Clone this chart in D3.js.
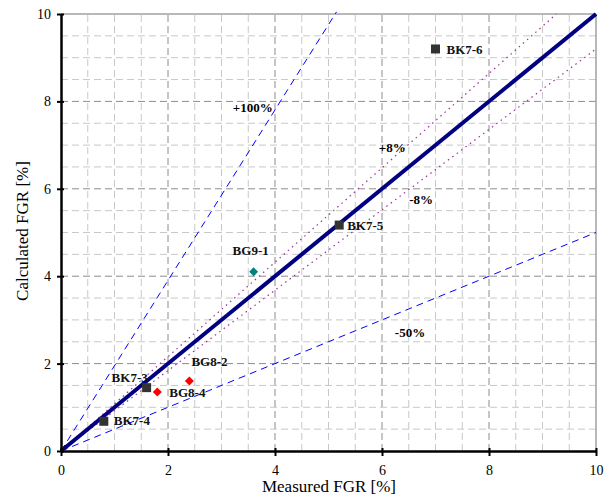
<!DOCTYPE html>
<html>
<head>
<meta charset="utf-8">
<script src="https://cdn.jsdelivr.net/npm/d3@7"></script>
<style>
  body { margin: 0; background: #fff; }
  text { font-family: "Liberation Serif", "Times New Roman", serif; }
</style>
</head>
<body>
<script>
// sample names and values (measured vs calculated FGR, %)
var bkNames = ['BK7-6', 'BK7-5', 'BK7-3', 'BK7-4'];
var bkMeasured = [7.0, 5.2, 1.6, 0.8];
var bkCalculated = [9.2, 5.17, 1.45, 0.68];

var bgNames = ['BG8-4', 'BG8-2', 'BG9-1'];
var bgMeasured = [1.8, 2.4, 3.6];
var bgCalculated = [1.35, 1.6, 4.1];
var bgColors = ['#ff0000', '#ff0000', '#008080'];

// reference lines (end points)
var lineNames = ['+100%', '-50%', '+8%', '-8%', 'y=x'];
var lineEnds = [[5.15, 10.05], [10, 5], [9.26, 10], [10, 9.2], [10, 10]];
var lineLabelAt = [[3.21, 7.76], [6.24, 2.62], [5.94, 6.84], [6.51, 5.65]];

var xTicks = [0, 2, 4, 6, 8, 10];
var yTicks = [0, 2, 4, 6, 8, 10];

var width = 606, height = 497;
var margin = {left: 61, right: 10, top: 14, bottom: 46};

var svg = d3.select('body').append('svg')
  .attr('width', width)
  .attr('height', height);

var x = d3.scaleLinear().domain([0, 10]).range([margin.left, width - margin.right]);
var y = d3.scaleLinear().domain([0, 10]).range([height - margin.bottom, margin.top]);

// grid
var minor = d3.range(0.5, 10, 0.5).filter(function(d){ return d % 2 !== 0; });
var major = [2, 4, 6, 8];
var grid = svg.append('g');
grid.selectAll('.vmin').data(minor).enter().append('line')
  .attr('x1', function(d){ return x(d); }).attr('x2', function(d){ return x(d); })
  .attr('y1', y(0)).attr('y2', y(10))
  .attr('stroke', '#c8c8c8').attr('stroke-dasharray', '7,4');
grid.selectAll('.hmin').data(minor).enter().append('line')
  .attr('y1', function(d){ return y(d); }).attr('y2', function(d){ return y(d); })
  .attr('x1', x(0)).attr('x2', x(10))
  .attr('stroke', '#c8c8c8').attr('stroke-dasharray', '7,4');
grid.selectAll('.vmaj').data(major).enter().append('line')
  .attr('x1', function(d){ return x(d); }).attr('x2', function(d){ return x(d); })
  .attr('y1', y(0)).attr('y2', y(10))
  .attr('stroke', '#8c8c8c').attr('stroke-dasharray', '7,4');
grid.selectAll('.hmaj').data(major).enter().append('line')
  .attr('y1', function(d){ return y(d); }).attr('y2', function(d){ return y(d); })
  .attr('x1', x(0)).attr('x2', x(10))
  .attr('stroke', '#8c8c8c').attr('stroke-dasharray', '7,4');

// top and right border
svg.append('line').attr('x1', x(0)).attr('x2', x(10)).attr('y1', y(10)).attr('y2', y(10))
  .attr('stroke', '#a0a0a0').attr('stroke-width', 1.5);
svg.append('line').attr('x1', x(10)).attr('x2', x(10)).attr('y1', y(0)).attr('y2', y(10))
  .attr('stroke', '#a0a0a0').attr('stroke-width', 1.5);

// reference lines
var lineStyle = [
  {stroke: '#0000ff', w: 1, dash: '7,5'},
  {stroke: '#0000ff', w: 1, dash: '7,5'},
  {stroke: '#993399', w: 1.2, dash: '1.5,4'},
  {stroke: '#993399', w: 1.2, dash: '1.5,4'},
  {stroke: '#000080', w: 4, dash: null}
];
svg.append('g').selectAll('line').data(lineEnds).enter().append('line')
  .attr('x1', x(0)).attr('y1', y(0))
  .attr('x2', function(d){ return x(d[0]); })
  .attr('y2', function(d){ return y(d[1]); })
  .attr('stroke', function(d, i){ return lineStyle[i].stroke; })
  .attr('stroke-width', function(d, i){ return lineStyle[i].w; })
  .attr('stroke-dasharray', function(d, i){ return lineStyle[i].dash; });

svg.append('g').selectAll('text').data(lineLabelAt).enter().append('text')
  .attr('x', function(d){ return x(d[0]); })
  .attr('y', function(d){ return y(d[1]); })
  .attr('font-size', 13).attr('font-weight', 'bold')
  .text(function(d, i){ return lineNames[i]; });

// axes
var xAxis = d3.axisBottom(x).tickValues(xTicks).tickSize(0).tickPadding(14);
var yAxis = d3.axisLeft(y).tickValues(yTicks).tickSize(0).tickPadding(10);

var gx = svg.append('g').attr('transform', 'translate(0,' + y(0) + ')').call(xAxis);
var gy = svg.append('g').attr('transform', 'translate(' + x(0) + ',0)').call(yAxis);
[gx, gy].forEach(function(g){
  g.select('.domain').attr('stroke', '#000').attr('stroke-width', 2.5);
  g.selectAll('text').attr('font-size', 14).attr('fill', '#000')
    .attr('font-family', '"Liberation Serif", serif');
});
gx.selectAll('.tick').append('line').attr('y1', -3).attr('y2', 5).attr('stroke', '#000').attr('stroke-width', 2);
gy.selectAll('.tick').append('line').attr('x1', -4).attr('x2', 3).attr('stroke', '#000').attr('stroke-width', 2);

// axis titles
svg.append('text').attr('x', 329).attr('y', 492).attr('text-anchor', 'middle')
  .attr('font-size', 17).text('Measured FGR [%]');
svg.append('text').attr('transform', 'translate(28,' + 231 + ') rotate(-90)')
  .attr('text-anchor', 'middle').attr('font-size', 17).text('Calculated FGR [%]');

// BK points: squares
var bkData = bkNames.map(function(n, i){ return {name: n, mx: bkMeasured[i], cy: bkCalculated[i]}; });
var bkOff = [[11, 5.5], [8, 5], [-35, -6], [10, 4]];
svg.append('g').selectAll('rect').data(bkData).enter().append('rect')
  .attr('x', function(d){ return x(d.mx) - 4.5; })
  .attr('y', function(d){ return y(d.cy) - 4.5; })
  .attr('width', 9).attr('height', 9)
  .attr('fill', '#333333');
svg.append('g').selectAll('text').data(bkData).enter().append('text')
  .attr('x', function(d, i){ return x(d.mx) + bkOff[i][0]; })
  .attr('y', function(d, i){ return y(d.cy) + bkOff[i][1]; })
  .attr('font-size', 13).attr('font-weight', 'bold').attr('fill', '#111')
  .text(function(d){ return d.name; });

// BG points: diamonds
var bgData = bgNames.map(function(n, i){ return {name: n, mx: bgMeasured[i], cy: bgCalculated[i], c: bgColors[i]}; });
var bgOff = [[12, 5], [2, -15], [-21, -17]];
svg.append('g').selectAll('path').data(bgData).enter().append('path')
  .attr('d', 'M0,-4.5L4.5,0L0,4.5L-4.5,0Z')
  .attr('transform', function(d){ return 'translate(' + x(d.mx) + ',' + y(d.cy) + ')'; })
  .attr('fill', function(d){ return d.c; });
svg.append('g').selectAll('text').data(bgData).enter().append('text')
  .attr('x', function(d, i){ return x(d.mx) + bgOff[i][0]; })
  .attr('y', function(d, i){ return y(d.cy) + bgOff[i][1]; })
  .attr('font-size', 13).attr('font-weight', 'bold').attr('fill', '#111')
  .text(function(d){ return d.name; });
</script>
</body>
</html>
